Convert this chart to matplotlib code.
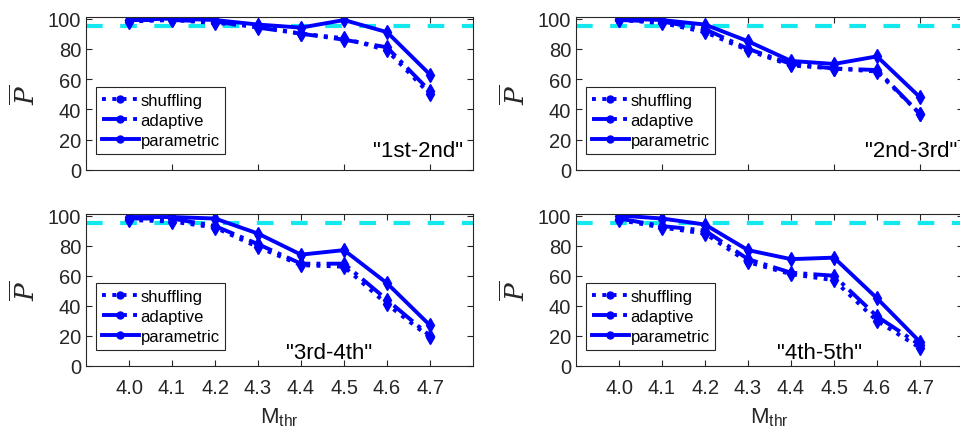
import matplotlib
matplotlib.use("Agg")
import matplotlib.pyplot as plt
from matplotlib.lines import Line2D

plt.rcParams['font.family'] = ['Liberation Sans', 'DejaVu Sans']
plt.rcParams['mathtext.fontset'] = 'dejavuserif'

# data
m_thr = [4.0, 4.1, 4.2, 4.3, 4.4, 4.5, 4.6, 4.7]
tick_labels = ["4.0", "4.1", "4.2", "4.3", "4.4", "4.5", "4.6", "4.7"]
panel_names = ['"1st-2nd"', '"2nd-3rd"', '"3rd-4th"', '"4th-5th"']
series_names = ["shuffling", "adaptive", "parametric"]
threshold = 95

shuffling_12 = [98, 99, 97, 95, 90, 87, 79, 50]
adaptive_12 = [99, 99, 98, 94, 90, 86, 81, 52]
parametric_12 = [99, 100, 99, 96, 94, 99, 91, 63]

shuffling_23 = [99, 97, 91, 79, 69, 67, 65, 37]
adaptive_23 = [99, 98, 93, 80, 70, 67, 66, 37]
parametric_23 = [100, 99, 96, 85, 72, 70, 75, 48]

shuffling_34 = [97, 96, 92, 79, 67, 66, 41, 19]
adaptive_34 = [98, 98, 93, 81, 68, 68, 44, 20]
parametric_34 = [99, 99, 98, 88, 74, 77, 55, 27]

shuffling_45 = [97, 92, 88, 69, 61, 57, 30, 12]
adaptive_45 = [98, 93, 90, 71, 62, 60, 33, 14]
parametric_45 = [100, 98, 94, 77, 71, 72, 45, 16]

panels = [
    (shuffling_12, adaptive_12, parametric_12),
    (shuffling_23, adaptive_23, parametric_23),
    (shuffling_34, adaptive_34, parametric_34),
    (shuffling_45, adaptive_45, parametric_45),
]

blue = '#0000ff'
styles = [':', '-.', '-']

# axes positions in figure fraction (left, bottom, width, height)
W, H = 960, 435
boxes = [
    (86 / W, 1 - 171 / H, 387 / W, 153 / H),
    (576 / W, 1 - 171 / H, 387 / W, 153 / H),
    (86 / W, 1 - 367 / H, 387 / W, 152 / H),
    (576 / W, 1 - 367 / H, 387 / W, 152 / H),
]
label_pos = [(0.975, 0.125), (0.985, 0.125), (0.74, 0.09), (0.74, 0.09)]

fig = plt.figure(figsize=(9.6, 4.35), dpi=100)

for i, (box, data) in enumerate(zip(boxes, panels)):
    ax = fig.add_axes(box)
    for vals, ls in zip(data, styles):
        ax.plot(m_thr, vals, color=blue, linestyle=ls, linewidth=2.8,
                marker='d', markersize=7)
    ax.axhline(threshold, color='#12e8ee', linestyle=(0, (4, 4.2)), linewidth=3, zorder=0)

    ax.set_xlim(3.9, 4.8)
    ax.set_ylim(0, 101)
    ax.set_yticks([0, 20, 40, 60, 80, 100])
    if i < 2:
        ax.set_xticks([4.1, 4.3, 4.5, 4.7])
        ax.set_xticklabels([])
    else:
        ax.set_xticks(m_thr)
        ax.set_xticklabels(tick_labels)
        ax.set_xlabel(r'M$_{\mathregular{thr}}$', fontsize=16, color='#262626', labelpad=6)
    ax.tick_params(direction='in', top=True, right=True, labelsize=14.5,
                   colors='#262626', length=4)
    ax.tick_params(axis='x', pad=9)
    for sp in ax.spines.values():
        sp.set_color('#262626')
        sp.set_linewidth(0.8)
    ax.set_ylabel(r'$\overline{P}$', fontsize=19, color='#262626', labelpad=6)

    handles = [Line2D([], [], color=blue, linestyle=ls, linewidth=2.8,
                      marker='o', markersize=5) for ls in styles]
    leg = ax.legend(handles, series_names, loc='lower left',
                    bbox_to_anchor=(0.005, 0.05), fontsize=12,
                    handlelength=2.2, handletextpad=0.1, labelspacing=0.3,
                    borderpad=0.35, fancybox=False, framealpha=1)
    leg.get_frame().set_edgecolor('#262626')
    leg.get_frame().set_linewidth(0.8)

    tx, ty = label_pos[i]
    ax.text(tx, ty, panel_names[i], transform=ax.transAxes, ha='right',
            va='center', fontsize=16, color='black')

fig.savefig("out.png", dpi=100)
